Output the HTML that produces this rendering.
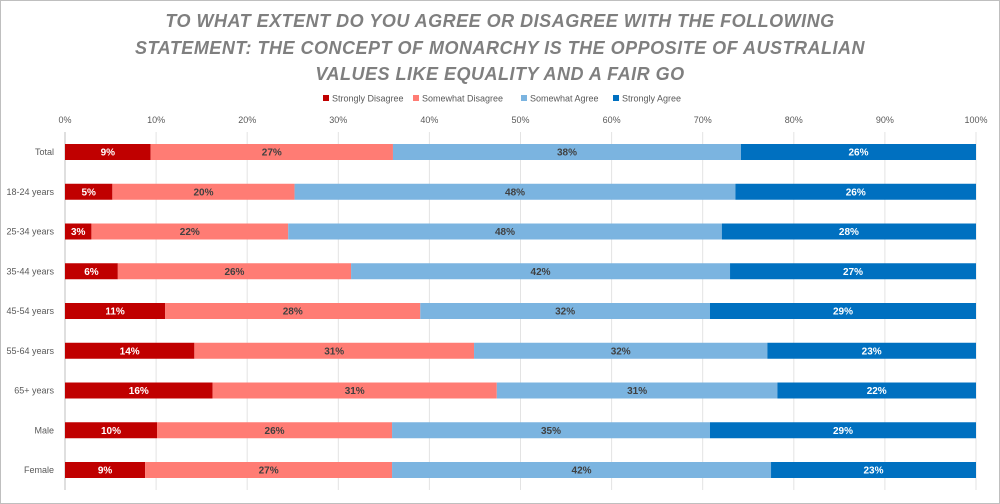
<!DOCTYPE html>
<html><head><meta charset="utf-8"><style>
body{margin:0;background:#fff;}
#wrap{position:relative;width:1000px;height:504px;overflow:hidden;font-family:"Liberation Sans",sans-serif;}
</style></head><body>
<div id="wrap">
<svg id="chart" width="1000" height="504">
<rect x="0.5" y="0.5" width="999" height="503" fill="#fff" stroke="#bfbfbf"/>
<g font-family="Liberation Sans, sans-serif" font-style="italic" font-weight="bold" font-size="18" fill="#7f7f7f" text-anchor="middle" letter-spacing="0.5">
<text x="500" y="27">TO WHAT EXTENT DO YOU AGREE OR DISAGREE WITH THE FOLLOWING</text>
<text x="500" y="54">STATEMENT: THE CONCEPT OF MONARCHY IS THE OPPOSITE OF AUSTRALIAN</text>
<text x="500" y="80">VALUES LIKE EQUALITY AND A FAIR GO</text>
</g>
<g id="legend"></g>
<g id="grid"></g>
<g id="bars"></g>
</svg>
</div>
<script>
const categories=["Total","18-24 years","25-34 years","35-44 years","45-54 years","55-64 years","65+ years","Male","Female"];
const seriesNames=["Strongly Disagree","Somewhat Disagree","Somewhat Agree","Strongly Agree"];
const stronglyDisagree=[9.4,5.2,2.9,5.8,11.0,14.2,16.2,10.1,8.8];
const somewhatDisagree=[26.6,20.0,21.6,25.6,28.0,30.7,31.2,25.8,27.1];
const somewhatAgree=[38.2,48.4,47.6,41.6,31.8,32.2,30.8,34.9,41.6];
const stronglyAgree=[25.8,26.4,27.9,27.0,29.2,22.9,21.8,29.2,22.5];
const ticks=[0,10,20,30,40,50,60,70,80,90,100];

const NS="http://www.w3.org/2000/svg";
const colors=["#C00000","#FF7C74","#7BB4E0","#0070C0"];
const textColors=["#fff","#404040","#404040","#fff"];
const series=[stronglyDisagree,somewhatDisagree,somewhatAgree,stronglyAgree];
const x0=65,x1=976;
const xs=v=>x0+(x1-x0)*v/100;
const rowY=i=>152+i*39.75;
function mk(tag,attrs,parent){const e=document.createElementNS(NS,tag);for(const k in attrs)e.setAttribute(k,attrs[k]);parent.appendChild(e);return e;}
const grid=document.getElementById('grid'),bars=document.getElementById('bars'),legend=document.getElementById('legend');
ticks.forEach(t=>{
  const l=mk('line',{x1:xs(t),x2:xs(t),y1:132,y2:490,stroke:'#e3e3e3','stroke-width':1},grid);
  
  
  const tx=mk('text',{x:xs(t),y:123,'font-size':9,fill:'#595959','text-anchor':'middle'},grid);
  tx.textContent=t+'%';
  
  
});
const ax=mk('line',{x1:x0,x2:x0,y1:132,y2:490,stroke:'#bfbfbf'},grid);


const lx=[323,413,521,613];
seriesNames.forEach((n,s)=>{
  const r=mk('rect',{x:lx[s],y:95,width:6,height:6,fill:colors[s]},legend);
  
  
  const t=mk('text',{x:lx[s]+9,y:101.5,'font-size':9,fill:'#595959'},legend);
  t.textContent=n;
  
  
});
categories.forEach((c,i)=>{
  const y=rowY(i);
  const lab=mk('text',{x:54,y:y+3,'font-size':9,fill:'#595959','text-anchor':'end'},bars);
  lab.textContent=c;
  
  
  let cum=0;
  series.forEach((arr,s)=>{
    const v=arr[i];
    const r=mk('rect',{x:xs(cum),y:y-8,width:xs(cum+v)-xs(cum),height:16,fill:colors[s]},bars);
    
    
    const t=mk('text',{x:(xs(cum)+xs(cum+v))/2,y:y+3.5,'font-size':10,'font-weight':'bold',fill:textColors[s],'text-anchor':'middle'},bars);
    t.textContent=Math.round(v)+'%';
    
    
    cum+=v;
  });
});
</script>
</body></html>
